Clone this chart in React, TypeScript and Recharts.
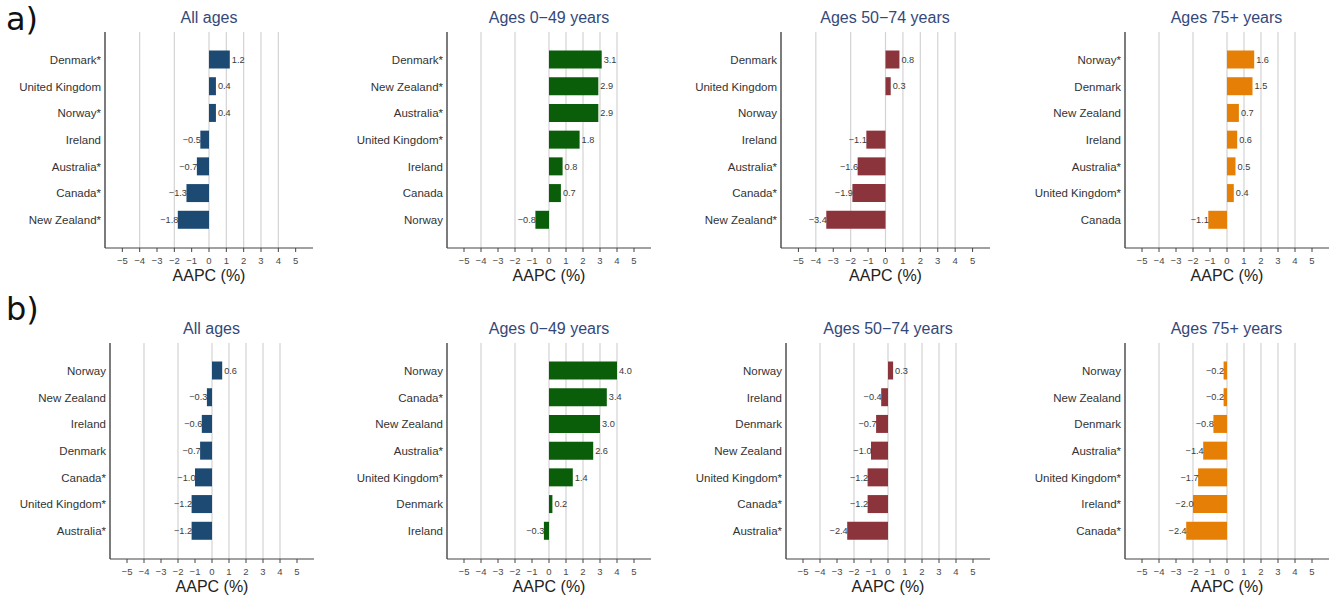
import { BarChart, Bar, XAxis, YAxis, CartesianGrid, LabelList } from "recharts";

// axis ticks and grid lines
const xTicks = [-5, -4, -3, -2, -1, 0, 1, 2, 3, 4, 5];
const gridLines = [-4, -3, -2, -1, 0, 1, 2, 3, 4];

// a) panels
const aAllCountries = ["Denmark*", "United Kingdom", "Norway*", "Ireland", "Australia*", "Canada*", "New Zealand*"];
const aAllValues = [1.2, 0.4, 0.4, -0.5, -0.7, -1.3, -1.8];
const aYoungCountries = ["Denmark*", "New Zealand*", "Australia*", "United Kingdom*", "Ireland", "Canada", "Norway"];
const aYoungValues = [3.1, 2.9, 2.9, 1.8, 0.8, 0.7, -0.8];
const aMidCountries = ["Denmark", "United Kingdom", "Norway", "Ireland", "Australia*", "Canada*", "New Zealand*"];
const aMidValues = [0.8, 0.3, 0.0, -1.1, -1.6, -1.9, -3.4];
const aOldCountries = ["Norway*", "Denmark", "New Zealand", "Ireland", "Australia*", "United Kingdom*", "Canada"];
const aOldValues = [1.6, 1.5, 0.7, 0.6, 0.5, 0.4, -1.1];

// b) panels
const bAllCountries = ["Norway", "New Zealand", "Ireland", "Denmark", "Canada*", "United Kingdom*", "Australia*"];
const bAllValues = [0.6, -0.3, -0.6, -0.7, -1.0, -1.2, -1.2];
const bYoungCountries = ["Norway", "Canada*", "New Zealand", "Australia*", "United Kingdom*", "Denmark", "Ireland"];
const bYoungValues = [4.0, 3.4, 3.0, 2.6, 1.4, 0.2, -0.3];
const bMidCountries = ["Norway", "Ireland", "Denmark", "New Zealand", "United Kingdom*", "Canada*", "Australia*"];
const bMidValues = [0.3, -0.4, -0.7, -1.0, -1.2, -1.2, -2.4];
const bOldCountries = ["Norway", "New Zealand", "Denmark", "Australia*", "United Kingdom*", "Ireland*", "Canada*"];
const bOldValues = [-0.2, -0.2, -0.8, -1.4, -1.7, -2.0, -2.4];

const titles = ["All ages", "Ages 0\u221249 years", "Ages 50\u221274 years", "Ages 75+ years"];
const colors = ["#1d4a73", "#0a5e0a", "#8c343c", "#e57f05"];

const FONT = '"Liberation Sans", Arial, sans-serif';
const PLOT_H = 216;
const Y_W = 112;

const panels = [
  { countries: aAllCountries, values: aAllValues, ti: 0, axisLeft: 105, plotW: 208, plotTop: 32 },
  { countries: aYoungCountries, values: aYoungValues, ti: 1, axisLeft: 447, plotW: 204, plotTop: 32 },
  { countries: aMidCountries, values: aMidValues, ti: 2, axisLeft: 780.5, plotW: 209, plotTop: 32 },
  { countries: aOldCountries, values: aOldValues, ti: 3, axisLeft: 1124.5, plotW: 204, plotTop: 32 },
  { countries: bAllCountries, values: bAllValues, ti: 0, axisLeft: 109.5, plotW: 204, plotTop: 342.5 },
  { countries: bYoungCountries, values: bYoungValues, ti: 1, axisLeft: 447, plotW: 204, plotTop: 342.5 },
  { countries: bMidCountries, values: bMidValues, ti: 2, axisLeft: 786, plotW: 204, plotTop: 342.5 },
  { countries: bOldCountries, values: bOldValues, ti: 3, axisLeft: 1124.5, plotW: 204, plotTop: 342.5 },
];

const minus = (v: number, digits: number) =>
  v < 0 ? "\u2212" + Math.abs(v).toFixed(digits) : v.toFixed(digits);

function ValueLabel(props: any) {
  const { x, y, width, height, value } = props;
  const v = Number(value);
  let end = x + width;
  if (width >= 0 && v < 0) end = x;
  const neg = v < 0;
  return (
    <text
      x={neg ? end + 0.5 : end + 2}
      y={y + height / 2}
      dy="0.35em"
      textAnchor={neg ? "end" : "start"}
      fontSize={9.2}
      fontFamily={FONT}
      fill="#3a3a3a"
    >
      {minus(v, 1)}
    </text>
  );
}

// plain text tick so long names never wrap
function CountryTick(props: any) {
  const { x, y, payload } = props;
  return (
    <text x={x} y={y} dy="0.35em" textAnchor="end" fontSize={11.5} fontFamily={FONT} fill="#333">
      {payload.value}
    </text>
  );
}

function Panel({ p }: { p: (typeof panels)[number] }) {
  const data = p.countries.map((c, i) => ({ country: c, value: p.values[i] }));
  const chartW = Y_W + p.plotW + 12;
  return (
    <>
      <div
        style={{
          position: "absolute",
          left: p.axisLeft,
          width: p.plotW,
          top: p.plotTop - 22,
          textAlign: "center",
          fontFamily: FONT,
          fontSize: 16,
          lineHeight: "16px",
          color: "#34487a",
          whiteSpace: "nowrap",
        }}
      >
        {titles[p.ti]}
      </div>
      <div style={{ position: "absolute", left: p.axisLeft - Y_W, top: p.plotTop - 10 }}>
        <BarChart
          width={chartW}
          height={10 + PLOT_H + 40}
          data={data}
          layout="vertical"
          margin={{ top: 10, right: 12, left: 0, bottom: 0 }}
        >
          <CartesianGrid horizontal={false} verticalValues={gridLines} stroke="#d3d3d3" strokeWidth={1.2} />
          <XAxis
            type="number"
            domain={[-6, 6]}
            ticks={xTicks}
            allowDataOverflow
            tickFormatter={(v: number) => minus(v, 0)}
            tick={{ fontSize: 9.5, fill: "#4a4a4a", fontFamily: FONT }}
            tickSize={4}
            tickMargin={5}
            axisLine={{ stroke: "#444", strokeWidth: 1.2 }}
            tickLine={{ stroke: "#444" }}
            height={40}
            label={{
              value: "AAPC (%)",
              position: "insideBottom",
              offset: 7,
              fontSize: 16,
              fill: "#222",
              fontFamily: FONT,
            }}
          />
          <YAxis
            type="category"
            dataKey="country"
            width={Y_W}
            tickLine={false}
            tickSize={0}
            tickMargin={4}
            axisLine={{ stroke: "#444", strokeWidth: 1.4 }}
            padding={{ top: 14.5, bottom: 14.5 }}
            interval={0}
            tick={<CountryTick />}
          />
          <Bar dataKey="value" fill={colors[p.ti]} barSize={18} isAnimationActive={false}>
            <LabelList dataKey="value" content={ValueLabel} />
          </Bar>
        </BarChart>
      </div>
    </>
  );
}

const panelLetter = {
  position: "absolute" as const,
  left: 6,
  fontFamily: '"DejaVu Sans", sans-serif',
  fontSize: 32,
  lineHeight: "38px",
  color: "#111",
};

export default function App() {
  return (
    <div style={{ position: "absolute", left: 0, top: 0, width: 1339, height: 601, background: "#fff" }}>
      <div style={{ ...panelLetter, top: 0 }}>a)</div>
      <div style={{ ...panelLetter, top: 290 }}>b)</div>
      {panels.map((p, i) => (
        <Panel key={i} p={p} />
      ))}
    </div>
  );
}
